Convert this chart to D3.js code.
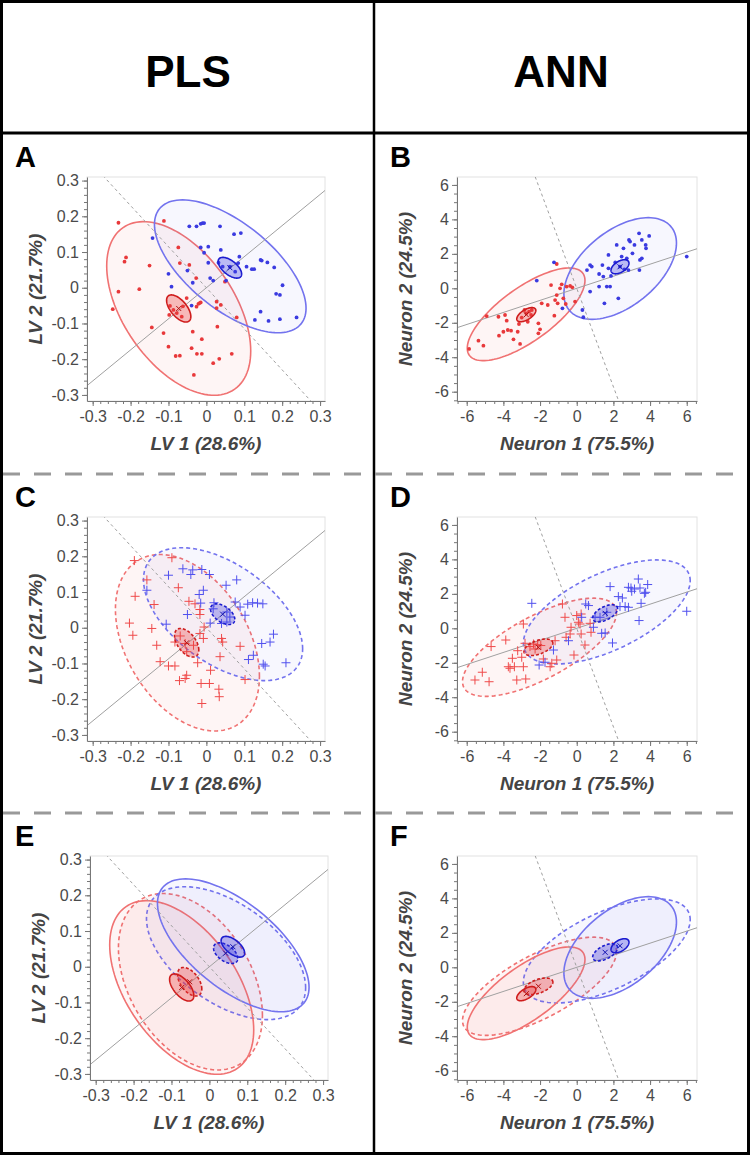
<!DOCTYPE html>
<html lang="en">
<head>
<meta charset="utf-8">
<title>PLS vs ANN score plots</title>
<script src="https://d3js.org/d3.v7.min.js"></script>
<style>
  body { margin: 0; background: #fff; }
  text { font-family: "Liberation Sans", Arial, sans-serif; }
</style>
</head>
<body>
<script>
// ---- column headers / axis labels
var columnTitles = ["PLS", "ANN"];
var panelLetters = ["A", "B", "C", "D", "E", "F"];
var lvTicks = [-0.3, -0.2, -0.1, 0, 0.1, 0.2, 0.3];
var neuronTicks = [-6, -4, -2, 0, 2, 4, 6];
var lvTitles = ["LV 1 (28.6%)", "LV 2 (21.7%)"];
var neuronTitles = ["Neuron 1 (75.5%)", "Neuron 2 (24.5%)"];

// slope of the class-separation axis (through the origin); the dashed line is its perpendicular
var plsAxisSlope = 0.87;
var annAxisSlope = 0.35;

// ---- scores, calibration set (dots), [x, y]
var plsCalRed = [[-0.232,0.182],[-0.112,0.187],[-0.212,0.085],[-0.216,0.073],[-0.074,0.113],[-0.070,0.069],[-0.045,0.064],[-0.150,0.062],[-0.177,-0.004],[-0.232,-0.011],[-0.247,-0.060],[-0.144,-0.111],[-0.113,-0.127],[-0.100,-0.165],[-0.081,-0.191],[-0.070,-0.190],[-0.033,-0.244],[-0.039,-0.169],[-0.036,-0.123],[-0.025,-0.185],[-0.012,-0.185],[-0.012,-0.144],[0.018,-0.211],[0.034,-0.199],[0.029,-0.109],[0.067,-0.185],[0.080,-0.083],[0.038,-0.048],[0.027,-0.039],[0.027,-0.057],[-0.018,-0.043],[-0.021,-0.045],[-0.015,-0.041],[-0.027,0.027],[-0.052,-0.029],[-0.026,-0.053],[-0.096,-0.051],[-0.098,-0.076],[-0.087,-0.062],[-0.078,-0.071],[-0.065,-0.081],[0.049,0.017],[-0.062,-0.052]];
var plsCalBlue = [[-0.142,0.139],[-0.045,0.172],[-0.026,0.172],[-0.015,0.179],[-0.010,0.181],[-0.006,0.181],[0.036,0.172],[0.073,0.150],[0.091,0.153],[-0.015,0.113],[0.005,0.115],[0.038,0.106],[-0.006,0.098],[0.087,0.087],[0.005,0.070],[0.032,0.070],[0.106,0.059],[0.120,0.052],[0.126,0.052],[0.143,0.078],[0.146,0.076],[0.161,0.071],[0.179,0.057],[0.201,0.007],[0.184,-0.017],[0.194,-0.020],[0.238,-0.083],[0.194,-0.088],[0.164,-0.093],[0.143,-0.067],[0.128,-0.090],[-0.100,0.039],[-0.092,0.003],[-0.036,0.014],[-0.050,0.048],[-0.039,-0.050],[0.010,0.027],[0.018,0.020],[0.052,0.020],[0.076,0.045],[0.062,0.059],[0.043,0.059],[0.084,0.069]];
var annCalRed = [[-5.87,-3.52],[-5.36,-3.04],[-5.09,-3.33],[-4.91,-1.61],[-4.27,-1.65],[-4.24,-2.75],[-4.0,-2.52],[-3.91,-1.55],[-3.82,-1.88],[-3.76,-2.42],[-3.58,-2.46],[-3.45,-2.96],[-3.22,-2.52],[-3.09,-3.23],[-3.15,-2.07],[-3.0,-1.70],[-2.85,-1.26],[-2.6,-1.35],[-2.67,-1.94],[-2.45,-1.26],[-2.49,-1.55],[-2.09,-2.03],[-2.09,-2.61],[-2.0,-2.38],[-1.91,-0.87],[-1.58,-0.97],[-1.40,0.19],[-1.22,-1.59],[-1.18,-0.68],[-1.09,-0.39],[-1.04,-0.87],[-0.91,0.0],[-0.82,0.23],[-0.73,-0.58],[-0.6,-0.91],[-0.55,0.1],[-0.36,0.14],[-0.24,0.06],[-0.09,-0.77],[-1.09,1.41],[-2.75,-1.45]];
var annCalBlue = [[-1.24,1.51],[-2.18,0.45],[-0.78,-1.16],[0.31,-1.26],[0.36,-1.68],[0.56,1.06],[0.73,-0.19],[0.73,1.35],[0.82,1.26],[1.22,0.83],[1.22,0.10],[1.4,1.35],[1.45,0.68],[1.51,-0.87],[1.64,0.10],[1.73,1.16],[1.73,1.94],[1.82,0.10],[1.87,0.72],[2.18,2.52],[2.27,-0.58],[2.36,1.26],[2.45,1.84],[2.55,2.32],[2.73,1.74],[2.85,2.81],[2.91,2.71],[3.04,2.03],[3.15,2.52],[3.4,3.19],[3.45,1.65],[3.55,2.81],[3.55,1.74],[3.76,2.52],[3.78,2.32],[3.95,3.04],[3.42,1.06],[6.0,1.84],[2.82,1.06],[2.1,1.5],[2.6,1.1]];

// ---- scores, validation set (crosses)
var plsValRed = [[-0.190,0.188],[-0.091,0.196],[-0.157,0.134],[-0.074,0.112],[-0.188,0.088],[-0.138,0.065],[-0.046,0.074],[-0.030,0.067],[-0.017,0.051],[-0.203,0.013],[-0.194,-0.021],[-0.144,-0.002],[-0.131,-0.049],[-0.122,-0.095],[-0.100,-0.107],[-0.083,-0.107],[-0.071,-0.148],[-0.056,-0.142],[-0.052,-0.133],[-0.023,-0.098],[-0.014,-0.156],[0.008,-0.156],[-0.012,-0.212],[0.033,-0.172],[0.034,-0.193],[0.011,-0.119],[0.036,-0.081],[0.040,-0.030],[0.043,-0.040],[0.089,-0.052],[0.102,-0.145],[-0.083,-0.040],[-0.069,-0.023],[-0.056,-0.044],[-0.052,-0.067],[-0.034,-0.049],[-0.017,-0.016],[-0.008,-0.030],[-0.006,0.002],[-0.017,0.037]];
var plsValBlue = [[-0.157,0.105],[-0.100,0.147],[-0.062,0.165],[-0.041,0.149],[-0.036,0.162],[-0.012,0.163],[0.008,0.149],[0.080,0.134],[0.052,0.119],[-0.008,0.105],[-0.019,0.093],[-0.015,0.069],[0.020,0.070],[0.018,0.053],[0.076,0.072],[0.089,0.058],[0.109,0.066],[0.122,0.070],[0.135,0.069],[0.149,0.067],[0.102,0.035],[-0.050,0.037],[-0.106,0.010],[0.010,0.013],[0.040,0.012],[0.054,0.016],[0.062,0.030],[0.054,0.044],[0.177,-0.018],[0.168,-0.040],[0.146,-0.044],[0.124,-0.077],[0.111,-0.089],[0.150,-0.102],[0.155,-0.107],[0.210,-0.098]];
var annValRed = [[-5.55,-3.0],[-5.15,-2.55],[-4.78,-3.10],[-4.67,-1.06],[-3.87,-0.68],[-3.73,-2.23],[-3.64,-2.32],[-3.51,-1.74],[-3.4,-2.23],[-3.27,-3.0],[-3.22,-1.30],[-3.0,-1.68],[-2.91,-2.23],[-2.78,-2.94],[-2.82,-0.87],[-2.91,0.25],[-2.55,-1.06],[-2.36,-0.91],[-2.27,-1.2],[-2.13,-0.95],[-1.96,-1.0],[-1.82,-1.78],[-1.45,-2.23],[-1.36,-2.03],[-1.18,-0.72],[-1.09,-1.84],[-0.78,1.41],[-0.64,0.64],[-0.58,-0.52],[-0.36,-0.33],[-0.31,0.06],[-0.15,-1.55],[0.0,0.74],[0.09,0.35],[0.18,0.25],[0.24,-0.33],[0.45,-0.97],[0.73,0.29],[0.78,-0.23],[0.24,0.83]];
var annValBlue = [[-2.45,1.45],[-1.27,-1.26],[-2.05,-2.13],[-1.73,-1.97],[-0.45,-0.72],[0.27,0.64],[0.49,1.41],[0.64,1.32],[0.91,0.06],[1.0,0.64],[1.27,0.64],[1.36,-0.29],[1.55,-0.27],[1.64,0.93],[1.82,2.42],[1.95,-0.85],[2.27,1.84],[2.49,1.76],[2.36,1.26],[2.64,1.26],[2.82,2.38],[2.96,2.34],[3.0,2.15],[3.15,2.28],[3.36,2.86],[3.45,2.34],[3.4,0.45],[3.51,1.45],[3.69,2.03],[3.76,2.09],[3.87,2.54],[6.0,0.99],[2.82,1.22]];

// ---- confidence ellipses: [class, size, cx, cy, half-width, half-height, r]
var plsCalEllipses = [
  ["red",  "big",  -0.073, -0.058, 0.190, 0.243, -0.49],
  ["blue", "big",   0.063,  0.060, 0.200, 0.186, -0.63],
  ["red",  "small",-0.073, -0.058, 0.032, 0.038, -0.60],
  ["blue", "small", 0.062,  0.056, 0.031, 0.029, -0.60]
];
var plsValEllipses = [
  ["red",  "big",  -0.050, -0.042, 0.190, 0.247, -0.38],
  ["blue", "big",   0.044,  0.038, 0.210, 0.186, -0.52],
  ["red",  "small",-0.052, -0.042, 0.032, 0.040, -0.50],
  ["blue", "small", 0.043,  0.038, 0.032, 0.029, -0.50]
];
var annCalEllipses = [
  ["red",  "big",  -2.76, -1.51, 3.21, 2.69, 0.73],
  ["blue", "big",   2.37,  1.15, 3.07, 2.95, 0.50],
  ["red",  "small",-2.75, -1.53, 0.52, 0.41, 0.60],
  ["blue", "small", 2.36,  1.25, 0.49, 0.41, 0.50]
];
var annValEllipses = [
  ["red",  "big",  -2.03, -1.10, 4.20, 2.85, 0.70],
  ["blue", "big",   1.64,  0.95, 4.55, 3.02, 0.60],
  ["red",  "small",-2.09, -1.10, 0.79, 0.48, 0.50],
  ["blue", "small", 1.55,  0.87, 0.68, 0.50, 0.55]
];

var panels = [
  {letter: 0, row: 0, col: 0, type: "pls", marks: "dot",   red: plsCalRed, blue: plsCalBlue, ell: [plsCalEllipses], dash: [false]},
  {letter: 1, row: 0, col: 1, type: "ann", marks: "dot",   red: annCalRed, blue: annCalBlue, ell: [annCalEllipses], dash: [false]},
  {letter: 2, row: 1, col: 0, type: "pls", marks: "cross", red: plsValRed, blue: plsValBlue, ell: [plsValEllipses], dash: [true]},
  {letter: 3, row: 1, col: 1, type: "ann", marks: "cross", red: annValRed, blue: annValBlue, ell: [annValEllipses], dash: [true]},
  {letter: 4, row: 2, col: 0, type: "pls", marks: null, red: [], blue: [], ell: [plsValEllipses, plsCalEllipses], dash: [true, false], dx: 3},
  {letter: 5, row: 2, col: 1, type: "ann", marks: null, red: [], blue: [], ell: [annValEllipses, annCalEllipses], dash: [true, false]}
];

// ---- layout
var W = 750, H = 1155;
var rowTop = [130, 470, 809];
var colX = [0, 375];
var plotLeft = [87, 457], plotRight = [325, 697];
var plotTopOff = 47, plotBotOff = 271;

var domains = {
  pls: {x: [-0.315, 0.313], y: [-0.317, 0.31], ticks: lvTicks, minorStep: 0.02, titles: lvTitles, slope: plsAxisSlope},
  ann: {x: [-6.53, 6.56],   y: [-6.54, 6.46],  ticks: neuronTicks, minorStep: 0.5, titles: neuronTitles, slope: annAxisSlope}
};

var colors = {
  red:  {dot: "#e8383a", cross: "#ef4a4a", bigStroke: "#f07272", bigFill: "rgba(240,90,90,0.06)", smStroke: "#cf1c1c", smFill: "rgba(232,60,60,0.32)", center: "#b01010"},
  blue: {dot: "#3a3ae0", cross: "#5050ee", bigStroke: "#7373ee", bigFill: "rgba(95,95,235,0.05)", smStroke: "#1c1ccf", smFill: "rgba(60,60,225,0.32)", center: "#1010b0"}
};

var svg = d3.select("body").append("svg")
  .attr("width", W).attr("height", H);

svg.append("rect").attr("width", W).attr("height", H).attr("fill", "#fff");

// header
columnTitles.forEach(function(t, i) {
  svg.append("text")
    .attr("x", colX[i] + (i === 0 ? 188 : 186))
    .attr("y", 87)
    .attr("text-anchor", "middle")
    .attr("font-size", "44px")
    .attr("font-weight", "bold")
    .attr("fill", "#000")
    .text(t);
});

function ellipsePoints(e) {
  var s = Math.sqrt(1 - e[6] * e[6]);
  return d3.range(0, 360, 3).map(function(a) {
    var t = a * Math.PI / 180;
    return [e[2] + e[4] * Math.cos(t), e[3] + e[5] * (e[6] * Math.cos(t) + s * Math.sin(t))];
  });
}

panels.forEach(function(p, pi) {
  var cfg = domains[p.type];
  var dx = p.dx || 0;
  var top = rowTop[p.row];
  var x = d3.scaleLinear().domain(cfg.x).range([plotLeft[p.col] + dx, plotRight[p.col] + dx]);
  var y = d3.scaleLinear().domain(cfg.y).range([top + plotBotOff, top + plotTopOff]);
  var x0 = x.range()[0], x1 = x.range()[1], y0 = y.range()[1], y1 = y.range()[0];

  var g = svg.append("g");

  // panel letter
  g.append("text")
    .attr("x", colX[p.col] + 15)
    .attr("y", top + 37)
    .attr("font-size", "29px")
    .attr("font-weight", "bold")
    .attr("fill", "#000")
    .text(panelLetters[p.letter]);

  // plot frame
  g.append("rect")
    .attr("x", x0).attr("y", y0)
    .attr("width", x1 - x0).attr("height", y1 - y0)
    .attr("fill", "#fff")
    .attr("stroke", "#e2e2e2");

  var clipId = "clip" + pi;
  g.append("clipPath").attr("id", clipId)
    .append("rect").attr("x", x0).attr("y", y0).attr("width", x1 - x0).attr("height", y1 - y0);
  var plot = g.append("g").attr("clip-path", "url(#" + clipId + ")");

  var line = d3.line().x(function(d) { return x(d[0]); }).y(function(d) { return y(d[1]); });
  var closed = d3.line().x(function(d) { return x(d[0]); }).y(function(d) { return y(d[1]); }).curve(d3.curveLinearClosed);

  // big ellipses
  p.ell.forEach(function(set, si) {
    set.filter(function(e) { return e[1] === "big"; }).forEach(function(e) {
      plot.append("path")
        .attr("d", closed(ellipsePoints(e)))
        .attr("fill", colors[e[0]].bigFill)
        .attr("stroke", colors[e[0]].bigStroke)
        .attr("stroke-width", 1.6)
        .attr("stroke-dasharray", p.dash[si] ? "4,3" : null);
    });
  });

  // separation axis and its perpendicular
  var m = cfg.slope;
  plot.append("path")
    .attr("d", line([[cfg.x[0], m * cfg.x[0]], [cfg.x[1], m * cfg.x[1]]]))
    .attr("stroke", "#a0a0a0").attr("stroke-width", 1).attr("fill", "none");
  var big = (cfg.x[1] - cfg.x[0]) * 3;
  plot.append("path")
    .attr("d", line([[-big, big / m], [big, -big / m]]))
    .attr("stroke", "#a0a0a0").attr("stroke-width", 1).attr("fill", "none")
    .attr("stroke-dasharray", "3,3");

  // score marks
  ["red", "blue"].forEach(function(cls) {
    var pts = p[cls];
    if (p.marks === "dot") {
      plot.selectAll("circle." + cls).data(pts).enter().append("circle")
        .attr("class", cls)
        .attr("cx", function(d) { return x(d[0]); })
        .attr("cy", function(d) { return y(d[1]); })
        .attr("r", 1.9)
        .attr("fill", colors[cls].dot);
    } else if (p.marks === "cross") {
      plot.selectAll("path." + cls).data(pts).enter().append("path")
        .attr("class", cls)
        .attr("d", function(d) {
          var px = x(d[0]), py = y(d[1]);
          return "M" + (px - 4.5) + "," + py + "H" + (px + 4.5) + "M" + px + "," + (py - 4.5) + "V" + (py + 4.5);
        })
        .attr("stroke", colors[cls].cross)
        .attr("stroke-width", 1);
    }
  });

  // small ellipses (confidence of the mean) and their centres
  p.ell.forEach(function(set, si) {
    set.filter(function(e) { return e[1] === "small"; }).forEach(function(e) {
      plot.append("path")
        .attr("d", closed(ellipsePoints(e)))
        .attr("fill", colors[e[0]].smFill)
        .attr("stroke", colors[e[0]].smStroke)
        .attr("stroke-width", 1.6)
        .attr("stroke-dasharray", p.dash[si] ? "3,2" : null);
      var cx = x(e[2]), cy = y(e[3]);
      plot.append("path")
        .attr("d", "M" + (cx - 2.5) + "," + (cy - 2.5) + "L" + (cx + 2.5) + "," + (cy + 2.5) +
                   "M" + (cx - 2.5) + "," + (cy + 2.5) + "L" + (cx + 2.5) + "," + (cy - 2.5))
        .attr("stroke", colors[e[0]].center)
        .attr("stroke-width", 1);
    });
  });

  // axes
  var fmt = function(d) { return d === 0 ? "0" : String(d); };
  var minorX = d3.range(Math.ceil(cfg.x[0] / cfg.minorStep), Math.floor(cfg.x[1] / cfg.minorStep) + 1)
    .map(function(k) { return k * cfg.minorStep; });
  var minorY = d3.range(Math.ceil(cfg.y[0] / cfg.minorStep), Math.floor(cfg.y[1] / cfg.minorStep) + 1)
    .map(function(k) { return k * cfg.minorStep; });

  var gx = g.append("g").attr("transform", "translate(0," + y1 + ")");
  gx.call(d3.axisBottom(x).tickValues(minorX).tickSize(3).tickSizeOuter(0).tickFormat(""));
  gx.append("g").call(d3.axisBottom(x).tickValues(cfg.ticks).tickSize(5).tickSizeOuter(0).tickPadding(5).tickFormat(fmt))
    .select(".domain").remove();

  var gy = g.append("g").attr("transform", "translate(" + x0 + ",0)");
  gy.call(d3.axisLeft(y).tickValues(minorY).tickSize(3).tickSizeOuter(0).tickFormat(""));
  gy.append("g").call(d3.axisLeft(y).tickValues(cfg.ticks).tickSize(5).tickSizeOuter(0).tickPadding(3).tickFormat(fmt))
    .select(".domain").remove();

  g.selectAll(".domain").attr("stroke", "#777");
  g.selectAll(".tick line").attr("stroke", "#777");
  g.selectAll(".tick text")
    .attr("font-size", "16px")
    .attr("fill", "#4a4a4a")
    .attr("font-family", "'Liberation Sans', Arial, sans-serif");

  // axis titles
  g.append("text")
    .attr("x", (x0 + x1) / 2)
    .attr("y", top + 320)
    .attr("text-anchor", "middle")
    .attr("font-size", "19px")
    .attr("font-weight", "bold")
    .attr("font-style", "italic")
    .attr("fill", "#444")
    .text(cfg.titles[0]);

  g.append("text")
    .attr("transform", "translate(" + (x0 - 45) + "," + ((y0 + y1) / 2) + ") rotate(-90)")
    .attr("text-anchor", "middle")
    .attr("font-size", "19px")
    .attr("font-weight", "bold")
    .attr("font-style", "italic")
    .attr("fill", "#444")
    .text(cfg.titles[1]);
});

// grid of the figure: outer box, column divider, header rule, dashed row separators
svg.append("line").attr("x1", 374).attr("x2", 374).attr("y1", 0).attr("y2", H)
  .attr("stroke", "#000").attr("stroke-width", 2.5);
svg.append("line").attr("x1", 0).attr("x2", W).attr("y1", 133).attr("y2", 133)
  .attr("stroke", "#000").attr("stroke-width", 3);
[474, 813].forEach(function(yy) {
  svg.append("line").attr("x1", 3).attr("x2", W - 3).attr("y1", yy).attr("y2", yy)
    .attr("stroke", "#999").attr("stroke-width", 3).attr("stroke-dasharray", "17,14");
});
svg.append("rect").attr("x", 1.5).attr("y", 1.5).attr("width", W - 3).attr("height", H - 3)
  .attr("fill", "none").attr("stroke", "#000").attr("stroke-width", 3);
</script>
</body>
</html>
